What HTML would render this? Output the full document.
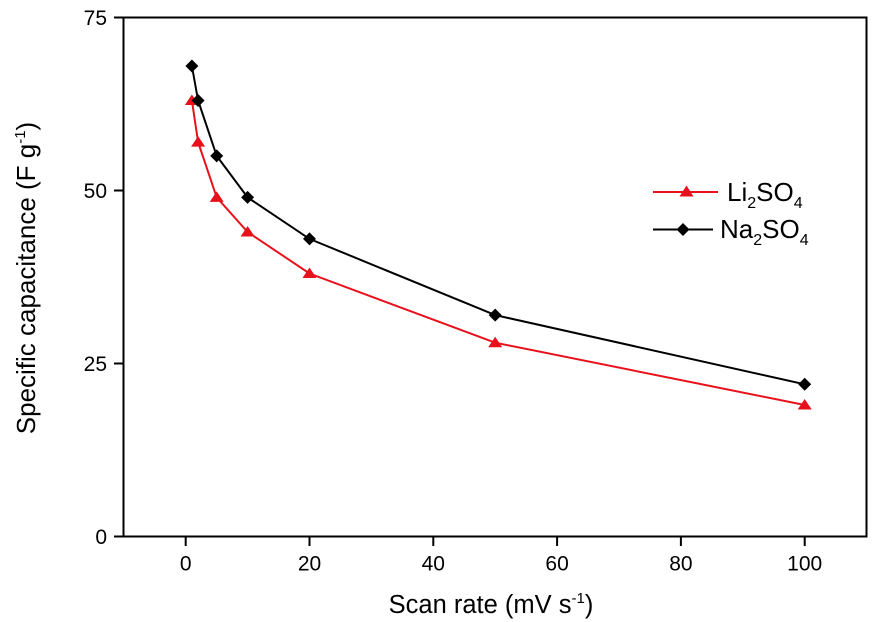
<!DOCTYPE html>
<html>
<head>
<meta charset="utf-8">
<style>
html,body{margin:0;padding:0;background:#fff;}
svg{display:block;}
text{font-family:"Liberation Sans",Arial,sans-serif;fill:#000;}
</style>
</head>
<body>
<svg width="881" height="622" viewBox="0 0 881 622" xmlns="http://www.w3.org/2000/svg">
  <rect x="0" y="0" width="881" height="622" fill="#fff"/>
  <!-- frame -->
  <rect x="123.5" y="17.5" width="743" height="519" fill="none" stroke="#000" stroke-width="2"/>
  <g stroke="#000" stroke-width="2">
    <line x1="114" y1="17.5" x2="123.5" y2="17.5"/>
    <line x1="114" y1="190.5" x2="123.5" y2="190.5"/>
    <line x1="114" y1="363.5" x2="123.5" y2="363.5"/>
    <line x1="114" y1="536.5" x2="123.5" y2="536.5"/>
    <line x1="185.7" y1="536.5" x2="185.7" y2="546"/>
    <line x1="309.5" y1="536.5" x2="309.5" y2="546"/>
    <line x1="433.3" y1="536.5" x2="433.3" y2="546"/>
    <line x1="557.1" y1="536.5" x2="557.1" y2="546"/>
    <line x1="680.9" y1="536.5" x2="680.9" y2="546"/>
    <line x1="804.7" y1="536.5" x2="804.7" y2="546"/>
  </g>
  <!-- y tick labels -->
  <g font-size="21" text-anchor="end">
    <text x="107" y="25">75</text>
    <text x="107" y="198">50</text>
    <text x="107" y="371">25</text>
    <text x="107" y="544">0</text>
  </g>
  <!-- x tick labels -->
  <g font-size="21" text-anchor="middle">
    <text x="185.7" y="570.5">0</text>
    <text x="309.5" y="570.5">20</text>
    <text x="433.3" y="570.5">40</text>
    <text x="557.1" y="570.5">60</text>
    <text x="680.9" y="570.5">80</text>
    <text x="804.7" y="570.5">100</text>
  </g>
  <!-- axis labels -->
  <text x="491" y="613" font-size="25.5" text-anchor="middle">Scan rate (mV s<tspan font-size="15" dy="-10">-1</tspan><tspan dy="10">)</tspan></text>
  <text transform="translate(35,278) rotate(-90)" font-size="26" text-anchor="middle">Specific capacitance (F g<tspan font-size="15" dy="-10">-1</tspan><tspan dy="10">)</tspan></text>

  <!-- Li2SO4 series -->
  <polyline fill="none" stroke="#e8101a" stroke-width="2"
    points="191.9,100.5 198.1,142.1 216.7,197.4 247.6,232.0 309.5,273.5 495.2,342.7 804.7,405.0"/>
  <g fill="#e8101a">
    <polygon points="191.9,94.5 198.9,105 184.9,105"/>
    <polygon points="198.1,136.1 205.1,146.6 191.1,146.6"/>
    <polygon points="216.7,191.4 223.7,201.9 209.7,201.9"/>
    <polygon points="247.6,226.0 254.6,236.5 240.6,236.5"/>
    <polygon points="309.5,267.5 316.5,278.0 302.5,278.0"/>
    <polygon points="495.2,336.7 502.2,347.2 488.2,347.2"/>
    <polygon points="804.7,399.0 811.7,409.5 797.7,409.5"/>
  </g>

  <!-- Na2SO4 series -->
  <polyline fill="none" stroke="#000" stroke-width="2"
    points="191.9,66.0 198.1,100.5 216.7,155.9 247.6,197.4 309.5,238.9 495.2,315.1 804.7,384.3"/>
  <g fill="#000">
    <polygon points="191.9,59.5 198.4,66.0 191.9,72.5 185.4,66.0"/>
    <polygon points="198.1,94.0 204.6,100.5 198.1,107.0 191.6,100.5"/>
    <polygon points="216.7,149.4 223.2,155.9 216.7,162.4 210.2,155.9"/>
    <polygon points="247.6,190.9 254.1,197.4 247.6,203.9 241.1,197.4"/>
    <polygon points="309.5,232.4 316.0,238.9 309.5,245.4 303.0,238.9"/>
    <polygon points="495.2,308.6 501.7,315.1 495.2,321.6 488.7,315.1"/>
    <polygon points="804.7,377.8 811.2,384.3 804.7,390.8 798.2,384.3"/>
  </g>

  <!-- legend -->
  <line x1="653" y1="192" x2="718" y2="192" stroke="#e8101a" stroke-width="2"/>
  <polygon points="686.5,185.5 693.5,196.5 679.5,196.5" fill="#e8101a"/>
  <text x="727" y="201" font-size="26">Li<tspan font-size="16" dy="7">2</tspan><tspan dy="-7">SO</tspan><tspan font-size="16" dy="7">4</tspan></text>

  <line x1="653" y1="229.5" x2="713" y2="229.5" stroke="#000" stroke-width="2"/>
  <polygon points="683,223 689.5,229.5 683,236 676.5,229.5" fill="#000"/>
  <text x="720" y="238" font-size="26">Na<tspan font-size="16" dy="7">2</tspan><tspan dy="-7">SO</tspan><tspan font-size="16" dy="7">4</tspan></text>
</svg>
</body>
</html>
